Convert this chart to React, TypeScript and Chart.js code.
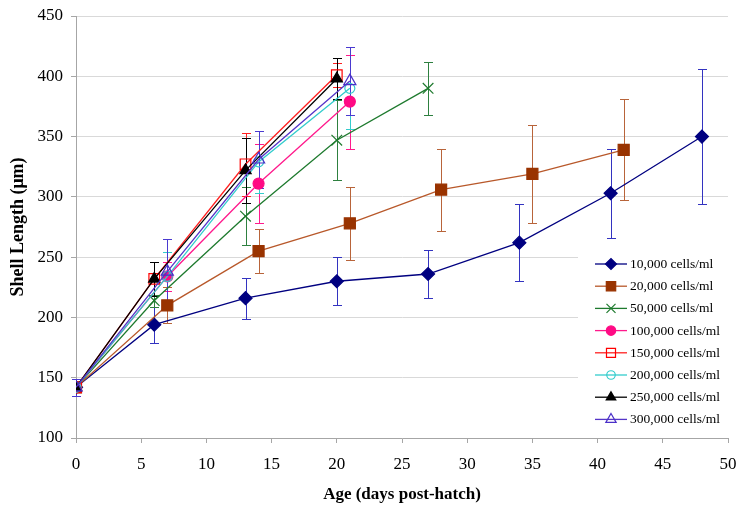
import React, { useEffect, useRef } from 'react';
import { Chart, registerables } from 'chart.js';
import { drawPoint } from 'chart.js/helpers';

Chart.register(...registerables);

// ---- Data (age in days post-hatch, mean shell length in µm, error bar half-width) ----
const days10 = [0, 6, 13, 20, 27, 34, 41, 48];
const len10 = [142, 194, 216, 230, 236, 262, 303, 350];
const err10 = [7, 15, 17, 20, 20, 32, 37, 56];

const days20 = [0, 7, 14, 21, 28, 35, 42];
const len20 = [142, 210, 255, 278, 306, 319, 339];
const err20 = [7, 15, 18, 30, 34, 41, 42];

const days50 = [0, 6, 13, 20, 27];
const len50 = [142, 214, 284, 347, 390];
const err50 = [7, 5, 24, 33, 22];

const days100 = [0, 7, 14, 21];
const len100 = [142, 234, 311, 379];
const err100 = [7, 12, 33, 39];

const days150 = [0, 6, 13, 20];
const len150 = [142, 232, 327, 401];
const err150 = [7, 14, 26, 10];

const days200 = [0, 7, 14, 21];
const len200 = [142, 234, 329, 390];
const err200 = [7, 20, 26, 34];

const days250 = [0, 6, 13, 20];
const len250 = [142, 232, 322, 398];
const err250 = [7, 14, 27, 17];

const days300 = [0, 7, 14, 21];
const len300 = [142, 238, 331, 396];
const err300 = [7, 27, 24, 28];

const seriesLabels = [
  '10,000 cells/ml',
  '20,000 cells/ml',
  '50,000 cells/ml',
  '100,000 cells/ml',
  '150,000 cells/ml',
  '200,000 cells/ml',
  '250,000 cells/ml',
  '300,000 cells/ml',
];

const xTitle = 'Age (days post-hatch)';
const yTitle = 'Shell Length (\u03bcm)';

const FONT = "'Liberation Serif', 'Times New Roman', serif";

type Series = {
  label: string;
  x: number[];
  y: number[];
  err: number[];
  line: string;
  errColor: string;
  fill: string;
  stroke: string;
  style: string;
  radius: number;
};

const SERIES: Series[] = [
  { label: seriesLabels[0], x: days10, y: len10, err: err10, line: '#000080', errColor: '#3333c0', fill: '#000080', stroke: '#000080', style: 'rectRot', radius: 6.5 },
  { label: seriesLabels[1], x: days20, y: len20, err: err20, line: '#b8582a', errColor: '#b8643a', fill: '#993300', stroke: '#993300', style: 'rect', radius: 7.8 },
  { label: seriesLabels[2], x: days50, y: len50, err: err50, line: '#1e7a2e', errColor: '#2e8040', fill: 'transparent', stroke: '#1e7a2e', style: 'crossRot', radius: 7.5 },
  { label: seriesLabels[3], x: days100, y: len100, err: err100, line: '#ff1a8c', errColor: '#ff1a8c', fill: '#ff0a84', stroke: '#ff0a84', style: 'circle', radius: 5.5 },
  { label: seriesLabels[4], x: days150, y: len150, err: err150, line: '#ff2020', errColor: '#ff2020', fill: 'transparent', stroke: '#ff0000', style: 'rect', radius: 7.5 },
  { label: seriesLabels[5], x: days200, y: len200, err: err200, line: '#33cccc', errColor: '#33cccc', fill: 'transparent', stroke: '#33cccc', style: 'circle', radius: 5 },
  { label: seriesLabels[6], x: days250, y: len250, err: err250, line: '#000000', errColor: '#000000', fill: '#000000', stroke: '#000000', style: 'triangle', radius: 6.5 },
  { label: seriesLabels[7], x: days300, y: len300, err: err300, line: '#5535c8', errColor: '#4a3ad0', fill: 'transparent', stroke: '#4a2fc8', style: 'triangle', radius: 7 },
];

const errorBars = {
  id: 'errorBars',
  beforeDatasetsDraw(chart: any) {
    const { ctx, scales } = chart;
    const xs = scales.x;
    const ys = scales.y;
    ctx.save();
    ctx.lineWidth = 1;
    SERIES.forEach((s) => {
      ctx.strokeStyle = s.errColor;
      s.x.forEach((d, i) => {
        const px = Math.round(xs.getPixelForValue(d)) + 0.5;
        const top = Math.round(ys.getPixelForValue(s.y[i] + s.err[i])) + 0.5;
        const bot = Math.round(ys.getPixelForValue(s.y[i] - s.err[i])) + 0.5;
        ctx.beginPath();
        ctx.moveTo(px, top);
        ctx.lineTo(px, bot);
        ctx.moveTo(px - 4.5, top);
        ctx.lineTo(px + 4.5, top);
        ctx.moveTo(px - 4.5, bot);
        ctx.lineTo(px + 4.5, bot);
        ctx.stroke();
      });
    });
    ctx.restore();
  },
};

const legendBox = {
  id: 'legendBox',
  afterDraw(chart: any) {
    const { ctx, chartArea } = chart;
    const right = chartArea.right;
    const bottom = chartArea.bottom;
    ctx.save();
    ctx.fillStyle = '#ffffff';
    ctx.fillRect(right - 150, bottom - 188, 150 + 14, 187);
    ctx.font = `13.5px ${FONT}`;
    ctx.textBaseline = 'middle';
    ctx.textAlign = 'left';
    SERIES.forEach((s, i) => {
      const yy = bottom - 174 + i * 22.2;
      ctx.strokeStyle = s.line;
      ctx.lineWidth = 1.3;
      ctx.beginPath();
      ctx.moveTo(right - 133, yy);
      ctx.lineTo(right - 101, yy);
      ctx.stroke();
      ctx.fillStyle = s.fill;
      ctx.strokeStyle = s.stroke;
      ctx.lineWidth = 1.2;
      drawPoint(ctx, { pointStyle: s.style as any, rotation: 0, radius: s.radius * 0.85, borderWidth: 1.2 }, right - 117, yy);
      ctx.fillStyle = '#000000';
      ctx.fillText(s.label, right - 98, yy + 0.5);
    });
    ctx.restore();
  },
};

export default function App() {
  const canvasRef = useRef<HTMLCanvasElement | null>(null);

  useEffect(() => {
    const canvas = canvasRef.current;
    if (!canvas) return;
    const datasets = SERIES.map((s, i) => ({
      label: s.label,
      data: s.x.map((d, j) => ({ x: d, y: s.y[j] })),
      borderColor: s.line,
      backgroundColor: s.fill,
      borderWidth: 1.3,
      showLine: true,
      tension: 0,
      pointStyle: s.style,
      pointRadius: s.radius,
      pointHoverRadius: s.radius,
      pointBackgroundColor: s.fill,
      pointBorderColor: s.stroke,
      pointBorderWidth: 1.2,
      order: SERIES.length - i,
    }));

    const chart = new Chart(canvas, {
      type: 'line',
      data: { datasets },
      plugins: [errorBars, legendBox],
      options: {
        animation: false,
        responsive: false,
        devicePixelRatio: 1,
        layout: { padding: { left: 0, right: 14, top: 16, bottom: 0 } },
        plugins: {
          legend: { display: false },
          tooltip: { enabled: false },
        },
        scales: {
          x: {
            type: 'linear',
            min: 0,
            max: 50,
            ticks: {
              stepSize: 5,
              color: '#000000',
              padding: 11,
              font: { family: FONT, size: 17 },
            },
            grid: {
              drawOnChartArea: false,
              drawTicks: true,
              tickLength: 5,
              tickColor: '#a6a6a6',
            },
            border: { display: true, color: '#a6a6a6', width: 1 },
            title: {
              display: true,
              text: xTitle,
              color: '#000000',
              font: { family: FONT, size: 17, weight: 'bold' },
              padding: { top: 0, bottom: 10 },
            },
            afterFit(scale: any) {
              scale.height = 77;
              scale.paddingLeft = 0;
              scale.paddingRight = 0;
            },
          },
          y: {
            type: 'linear',
            min: 100,
            max: 450,
            ticks: {
              stepSize: 50,
              color: '#000000',
              padding: 8,
              font: { family: FONT, size: 17 },
            },
            grid: {
              color: '#d9d9d9',
              lineWidth: 1,
              drawTicks: true,
              tickLength: 5,
              tickColor: '#a6a6a6',
            },
            border: { display: true, color: '#a6a6a6', width: 1 },
            title: {
              display: true,
              text: yTitle,
              color: '#000000',
              font: { family: FONT, size: 18, weight: 'bold' },
              padding: { top: 8, bottom: 0 },
            },
            afterFit(scale: any) {
              scale.width = 76;
              scale.paddingTop = 0;
              scale.paddingBottom = 0;
            },
          },
        },
      } as any,
    });
    return () => chart.destroy();
  }, []);

  return (
    <div style={{ position: 'fixed', left: 0, top: 0, width: 742, height: 515, background: '#ffffff' }}>
      <canvas ref={canvasRef} width={742} height={515} style={{ display: 'block', width: 742, height: 515 }} />
    </div>
  );
}
